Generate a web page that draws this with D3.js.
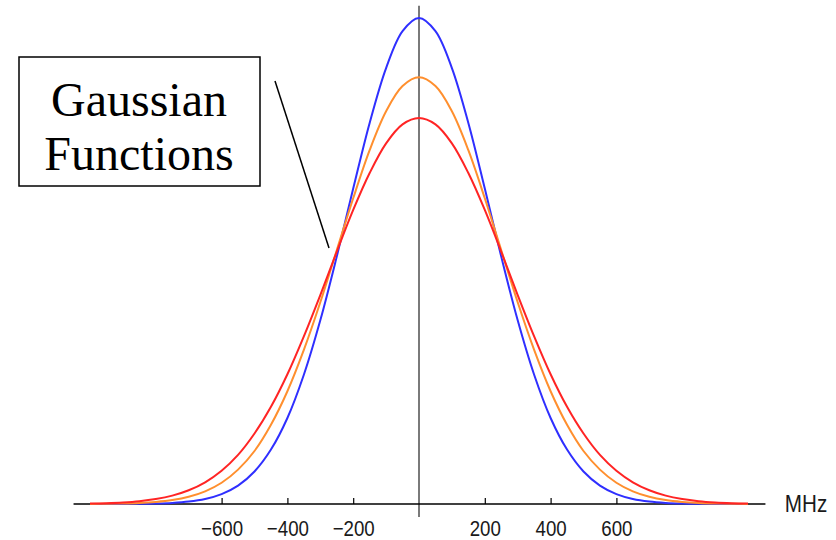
<!DOCTYPE html>
<html>
<head>
<meta charset="utf-8">
<script src="https://cdn.jsdelivr.net/npm/d3@7"></script>
<style>
  html, body { margin: 0; padding: 0; background: #fff; }
  svg { display: block; }
</style>
</head>
<body>
<svg id="chart" width="836" height="540"></svg>
<script>
// ---- data ----
const freqMHz = [-1000,-950,-900,-850,-800,-750,-700,-650,-600,-550,-500,-450,-400,-350,-300,-250,-200,-150,-100,-50,
                 0,50,100,150,200,250,300,350,400,450,500,550,600,650,700,750,800,850,900,950,1000];
const blueValues = [0.0000,0.0001,0.0002,0.0004,0.0010,0.0023,0.0050,0.0104,0.0204,0.0379,0.0669,0.112,0.177,0.266,0.378,0.509,0.649,0.784,0.897,0.973,
                    1.000,0.973,0.897,0.784,0.649,0.509,0.378,0.266,0.177,0.112,0.0669,0.0379,0.0204,0.0104,0.0050,0.0023,0.0010,0.0004,0.0002,0.0001,0.0000];
const orangeValues = [0.0002,0.0005,0.0010,0.0021,0.0043,0.0081,0.0148,0.0260,0.0437,0.0707,0.109,0.163,0.232,0.317,0.415,0.522,0.629,0.728,0.808,0.860,
                      0.878,0.860,0.808,0.728,0.629,0.522,0.415,0.317,0.232,0.163,0.109,0.0707,0.0437,0.0260,0.0148,0.0081,0.0043,0.0021,0.0010,0.0005,0.0002];
const redValues = [0.0009,0.0017,0.0032,0.0058,0.0102,0.0172,0.0283,0.0447,0.0684,0.101,0.145,0.200,0.267,0.345,0.430,0.519,0.605,0.681,0.742,0.781,
                   0.794,0.781,0.742,0.681,0.605,0.519,0.430,0.345,0.267,0.200,0.145,0.101,0.0684,0.0447,0.0283,0.0172,0.0102,0.0058,0.0032,0.0017,0.0009];
const tickValues = [-600,-400,-200,200,400,600];
const axisUnit = "MHz";
const boxLines = ["Gaussian", "Functions"];

// ---- scales ----
const svg = d3.select("#chart");
const x = d3.scaleLinear().domain([-1000, 1000]).range([90, 748]);
const y = d3.scaleLinear().domain([0, 1]).range([504, 18]);

function condense(sel, k) {
  sel.each(function () {
    const w = this.getComputedTextLength();
    d3.select(this).attr("textLength", w * k).attr("lengthAdjust", "spacingAndGlyphs");
  });
}

// vertical axis (gray)
svg.append("line")
  .attr("x1", x(0)).attr("x2", x(0))
  .attr("y1", y(1.025)).attr("y2", y(-0.027))
  .attr("stroke", "#7a7a7a").attr("stroke-width", 2);

// horizontal axis
const axis = d3.axisBottom(x)
  .tickValues(tickValues)
  .tickSizeInner(-6)
  .tickSizeOuter(0)
  .tickPadding(32)
  .tickFormat(d3.format("d"));
const gAxis = svg.append("g").attr("transform", `translate(0,${y(0)})`).call(axis);
gAxis.select(".domain").remove();
gAxis.selectAll(".tick line").attr("stroke", "#000").attr("stroke-width", 1.2);
gAxis.selectAll(".tick text")
  .attr("dy", 0)
  .attr("font-family", "Liberation Sans, Arial, sans-serif")
  .attr("font-size", 22).attr("fill", "#1a1a1a")
  .call(condense, 0.85);
svg.append("line")
  .attr("x1", x(-1050)).attr("x2", x(1053))
  .attr("y1", y(0)).attr("y2", y(0))
  .attr("stroke", "#000").attr("stroke-width", 1.5);
svg.append("text")
  .attr("x", x(1112)).attr("y", y(0) + 8)
  .attr("font-family", "Liberation Sans, Arial, sans-serif")
  .attr("font-size", 24).attr("fill", "#1a1a1a")
  .text(axisUnit)
  .call(condense, 0.86);

// curves
const line = d3.line().x(d => x(d[0])).y(d => y(d[1])).curve(d3.curveCatmullRom);
const series = [
  { values: blueValues, color: "#2f2fff" },
  { values: orangeValues, color: "#ff8f2e" },
  { values: redValues, color: "#ff2424" }
];
series.forEach(s => {
  svg.append("path")
    .datum(freqMHz.map((f, i) => [f, s.values[i]]))
    .attr("d", line)
    .attr("fill", "none")
    .attr("stroke", s.color)
    .attr("stroke-width", 2);
});

// annotation box
svg.append("rect")
  .attr("x", 19).attr("y", 57).attr("width", 241).attr("height", 129)
  .attr("fill", "#fff").attr("stroke", "#000").attr("stroke-width", 1.5);
boxLines.forEach((t, i) => {
  svg.append("text")
    .attr("x", 139).attr("y", 116 + i * 54)
    .attr("text-anchor", "middle")
    .attr("font-family", "Liberation Serif, Times New Roman, serif")
    .attr("font-size", 48).attr("fill", "#000")
    .text(t);
});
svg.append("line")
  .attr("x1", 275).attr("y1", 81).attr("x2", 329).attr("y2", 248)
  .attr("stroke", "#000").attr("stroke-width", 1.5);
</script>
</body>
</html>
